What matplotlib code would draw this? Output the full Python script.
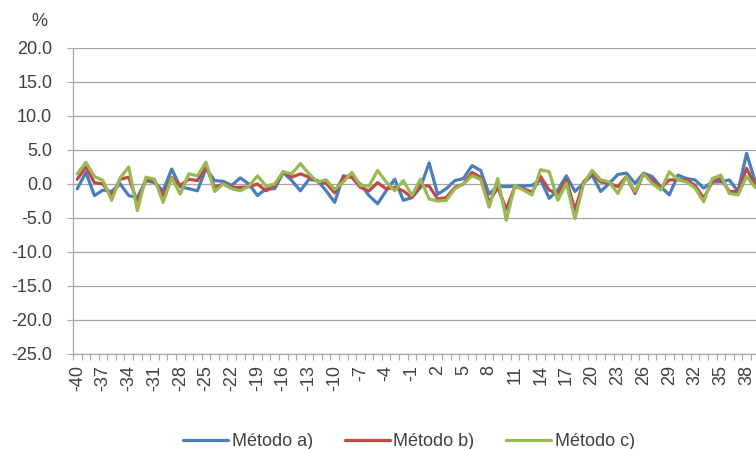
import numpy as np
import matplotlib
matplotlib.use("Agg")
import matplotlib.pyplot as plt
from matplotlib.ticker import FixedLocator, FuncFormatter

plt.rcParams['font.family'] = ['Liberation Sans', 'DejaVu Sans']

periods = list(range(-40, 40))

metodo_a = [-0.7, 1.7, -1.7, -0.9, -1.1, 0.0, -1.7, -2.0, 0.5, 0.2,
            -1.0, 2.2, -0.4, -0.7, -1.0, 2.3, 0.5, 0.4, -0.2, 0.9,
            0.0, -1.7, -0.7, -0.7, 1.7, 0.5, -1.0, 0.7, 0.5, -1.0,
            -2.7, 1.2, 1.0, 0.0, -1.7, -2.9, -1.0, 0.7, -2.4, -2.0,
            -0.5, 3.1, -1.5, -0.7, 0.5, 0.8, 2.7, 2.0, -1.5, -0.3,
            -0.4, -0.3, -0.3, -0.2, 0.6, -2.1, -0.9, 1.2, -1.1, 0.1,
            1.3, -1.1, 0.1, 1.4, 1.6, 0.1, 1.6, 1.1, -0.4, -1.6,
            1.3, 0.8, 0.6, -0.6, 0.3, 0.3, 0.6, -1.1, 4.5, 0.4]

metodo_b = [0.7, 2.5, 0.2, 0.0, -1.8, 0.7, 1.0, -2.7, 0.7, 0.5,
            -1.7, 1.0, -0.2, 0.7, 0.5, 2.6, -0.5, 0.0, -0.5, -0.5,
            -0.4, 0.0, -1.0, -0.3, 1.8, 1.0, 1.5, 1.0, 0.4, 0.1,
            -1.3, 1.0, 1.0, -0.5, -1.0, 0.2, -0.7, -0.5, -1.0, -2.0,
            -0.2, -0.3, -2.2, -2.0, -0.5, 0.0, 1.7, 1.0, -2.7, -0.5,
            -3.7, -0.4, -0.7, -1.2, 1.1, -0.9, -1.4, 0.6, -3.8, 0.3,
            1.6, 0.3, 0.1, -0.4, 1.1, -1.4, 1.5, 0.6, -0.6, 0.6,
            0.6, 0.6, -0.2, -2.1, 0.3, 0.8, -1.1, -1.1, 2.3, -0.2]

metodo_c = [1.5, 3.2, 1.1, 0.5, -2.4, 0.9, 2.5, -3.9, 1.0, 0.7,
            -2.7, 0.9, -1.5, 1.5, 1.2, 3.2, -1.1, 0.0, -0.7, -1.0,
            -0.3, 1.2, -0.3, 0.0, 1.8, 1.5, 3.0, 1.5, 0.3, 0.6,
            -0.8, 0.3, 1.7, -0.2, -0.3, 2.0, 0.3, -1.0, 0.5, -1.7,
            0.7, -2.2, -2.5, -2.4, -0.7, 0.0, 1.2, 0.7, -3.4, 0.8,
            -5.3, -0.2, -0.9, -1.6, 2.1, 1.8, -2.4, 0.1, -5.1, 0.0,
            2.0, 0.6, 0.3, -1.4, 1.1, -1.1, 1.5, 0.1, -0.9, 1.8,
            0.6, 0.3, -0.6, -2.6, 0.8, 1.3, -1.4, -1.6, 1.1, -0.5]

series = [("Método a)", metodo_a, "#4A7EBB"),
          ("Método b)", metodo_b, "#BE4B48"),
          ("Método c)", metodo_c, "#98B954")]

y_ticks = list(range(-25, 21, 5))
x_label_ticks = list(range(-40, 40, 3))

text_color = "#404040"
grid_color = "#A6A6A6"

fig = plt.figure(figsize=(7.56, 4.49), dpi=100)
ax = fig.add_axes([73 / 756, 1 - 354 / 449, 1 - 73 / 756, (354 - 48) / 449])

for name, vals, col in series:
    ax.plot(periods, vals, color=col, lw=2.3, label=name,
            solid_joinstyle='round', solid_capstyle='round', clip_on=True)

ax.set_xlim(-40.5, 39.1)
ax.set_ylim(-25, 20)

ax.set_yticks(y_ticks)
ax.yaxis.set_major_formatter(FuncFormatter(lambda v, p: f"{v:.1f}"))
ax.yaxis.grid(True, color=grid_color, lw=0.9)
ax.set_axisbelow(True)
ax.tick_params(axis='y', length=4, width=0.8, color=grid_color, pad=11,
               labelsize=13, labelcolor=text_color)

ax.xaxis.set_major_locator(FixedLocator(x_label_ticks))
ax.xaxis.set_minor_locator(FixedLocator(np.arange(-40.5, 40, 1.0)))
ax.set_xticklabels([str(v) for v in x_label_ticks], rotation=90,
                   va='top', ha='center')
ax.tick_params(axis='x', which='major', length=0, pad=8,
               labelsize=13, labelcolor=text_color)
ax.tick_params(axis='x', which='minor', length=4, width=0.8, color=grid_color)

for side in ('top', 'right'):
    ax.spines[side].set_visible(False)
for side in ('left', 'bottom'):
    ax.spines[side].set_color(grid_color)
    ax.spines[side].set_linewidth(0.9)

fig.text(39 / 756, 1 - 21 / 449, "%", ha='center', va='center',
         fontsize=13, color=text_color)

fig.legend(loc='center', bbox_to_anchor=(409 / 756, 1 - 442 / 449), ncol=3,
           frameon=False, fontsize=13, handlelength=2.5, handletextpad=0.2,
           columnspacing=1.75, labelcolor=text_color)

fig.savefig("out.png", dpi=100)
